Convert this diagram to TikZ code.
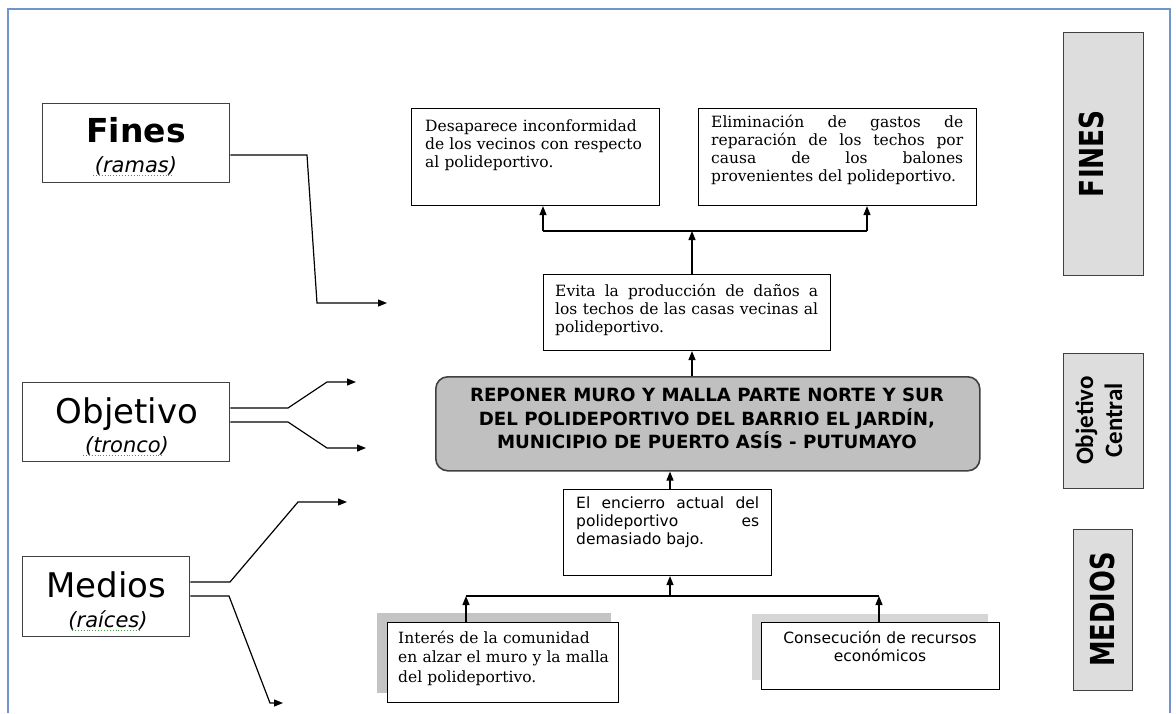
\documentclass[tikz,border=0pt]{standalone}
\usepackage{fontspec}
\setmainfont{DejaVu Serif}
\newfontfamily\vsans{DejaVu Sans}
\newfontfamily\carl{Carlito}
\usepackage{graphicx}
\usetikzlibrary{arrows.meta}
\definecolor{frameblue}{HTML}{7094CC}
\definecolor{sidegray}{HTML}{DDDDDD}
\definecolor{centgray}{HTML}{C0C0C0}
\definecolor{shadowA}{HTML}{C4C4C4}
\definecolor{shadowB}{HTML}{D6D6D6}
\definecolor{edgegray}{HTML}{404040}
\definecolor{spellgreen}{HTML}{3CA03C}
\begin{document}
\begin{tikzpicture}[x=1pt,y=-1pt,
  box/.style={draw=black, line width=1.1pt, fill=white, inner sep=0pt, anchor=north west},
  lbox/.style={draw=edgegray, line width=1.3pt, fill=white, inner sep=0pt, anchor=north west},
  sbox/.style={draw=edgegray, line width=1.3pt, fill=sidegray, inner sep=0pt, anchor=north west},
  txt/.style={anchor=north west, inner sep=0pt, font=\fontsize{15.5}{18}\selectfont},
  stxt/.style={anchor=north west, inner sep=0pt, font=\vsans\fontsize{15.5}{18}\selectfont},
  arr/.style={line width=1.2pt, -{Triangle[length=9pt,width=7pt]}},
  ln/.style={line width=1.2pt},
  spell/.style={spellgreen, line width=0.9pt, dotted},
]
\useasboundingbox (0,0) rectangle (1176,713);
\fill[white] (0,0) rectangle (1176,713);
% outer frame
\draw[frameblue, line width=2pt] (8,713) -- (8,9) -- (1170,9) -- (1170,713);

% ---------- left labels ----------
\node[lbox, minimum width=187pt, minimum height=79pt] (fin) at (42,103) {};
\node[anchor=base, inner sep=0pt, font=\vsans\bfseries\fontsize{33}{33}\selectfont] (finT) at (136,142) {Fines};
\node[anchor=base, inner sep=0pt, font=\vsans\itshape\fontsize{21}{21}\selectfont] (finS) at (136,172) {(ramas)};
\draw[spell] (93,175.5) -- (172,175.5);

\node[lbox, minimum width=207pt, minimum height=79pt] (obj) at (22,382) {};
\node[anchor=base, inner sep=0pt, font=\vsans\fontsize{34}{34}\selectfont] (objT) at (127,423) {Objetivo};
\node[anchor=base, inner sep=0pt, font=\vsans\itshape\fontsize{21}{21}\selectfont] (objS) at (127,452) {(tronco)};
\draw[spell] (83,455) -- (163,455);

\node[lbox, minimum width=167pt, minimum height=80pt] (med) at (22,556) {};
\node[anchor=base, inner sep=0pt, font=\vsans\fontsize{34}{34}\selectfont] (medT) at (106.5,597) {Medios};
\node[anchor=base, inner sep=0pt, font=\vsans\itshape\fontsize{21}{21}\selectfont] (medS) at (108,627) {(raíces)};
\draw[spell] (72,630) -- (140,630);

% left connectors
\coordinate (f1) at (307,155); \coordinate (f2) at (317,303); \coordinate (fE) at (387,303);
\draw[arr] (fin.east |- f1) -- (f1) -- (f2) -- (fE);
\coordinate (o1) at (288,408); \coordinate (o2) at (327,382); \coordinate (oE) at (356,382);
\coordinate (o3) at (288,422); \coordinate (o4) at (327,448); \coordinate (oF) at (366,448);
\draw[arr] (obj.east |- o1) -- (o1) -- (o2) -- (oE);
\draw[arr] (obj.east |- o3) -- (o3) -- (o4) -- (oF);
\coordinate (m1) at (230,582); \coordinate (m2) at (298,502); \coordinate (mE) at (347,502);
\coordinate (m3) at (229,596); \coordinate (m4) at (270,703); \coordinate (mF) at (283,703);
\draw[arr] (med.east |- m1) -- (m1) -- (m2) -- (mE);
\draw[arr] (med.east |- m3) -- (m3) -- (m4) -- (mF);

% ---------- right side labels ----------
\node[sbox, minimum width=80pt, minimum height=243pt] (sF) at (1063,32) {};
\node[rotate=90, inner sep=0pt, font=\vsans\bfseries\fontsize{33}{33}\selectfont] (sFt) at (1091,153.5) {\scalebox{0.8}[1]{FINES}};
\node[sbox, minimum width=80pt, minimum height=135pt] (sO) at (1063,353) {};
\node[rotate=90, inner sep=0pt, align=center, font=\carl\bfseries\fontsize{25}{29}\selectfont] (sOt) at (1099,420.5) {Objetivo\\Central};
\node[sbox, minimum width=59pt, minimum height=161pt] (sM) at (1073,529) {};
\node[rotate=90, inner sep=0pt, font=\vsans\bfseries\fontsize{33}{33}\selectfont] (sMt) at (1102,609.5) {\scalebox{0.78}[1]{MEDIOS}};

% ---------- top boxes ----------
\node[box, minimum width=248pt, minimum height=97pt] (b1) at (411,108) {};
\node[txt, text width=228pt, align=left] at (425,118.4) {\strut Desaparece inconformidad\\de los vecinos con respecto\\al polideportivo.};
\node[box, minimum width=278pt, minimum height=97pt] (b2) at (698,108) {};
\node[txt, text width=252pt, align=justify] at (711,114.4) {\strut Eliminación de gastos de\linebreak reparación de los techos por\linebreak causa de los balones\linebreak provenientes del polideportivo.};

% Evita
\node[box, minimum width=287pt, minimum height=76pt] (ev) at (543,274) {};
\node[txt, text width=263pt, align=justify] at (555,283.4) {\strut Evita la producción de daños a\linebreak los techos de las casas vecinas al\linebreak polideportivo.};

% central
\node[draw=edgegray, line width=1.6pt, fill=centgray, rounded corners=12pt, inner sep=0pt, anchor=north west, minimum width=544pt, minimum height=94pt] (cen) at (435,376) {};
\node[anchor=north, inner sep=0pt, align=center, font=\vsans\bfseries\fontsize{18.2}{22.5}\selectfont] (cenT) at (707,385.25) {\strut REPONER MURO Y MALLA PARTE NORTE Y SUR\\DEL POLIDEPORTIVO DEL BARRIO EL JARDÍN,\\MUNICIPIO DE PUERTO ASÍS - PUTUMAYO};

% encierro
\node[box, minimum width=208pt, minimum height=86pt] (enc) at (563,489) {};
\node[stxt, text width=183pt, align=justify] at (576,495.4) {\strut El encierro actual del\linebreak polideportivo es\linebreak demasiado bajo.};

% bottom boxes
\fill[shadowA] (377,613) rectangle (611,693);
\node[box, minimum width=231pt, minimum height=80pt] (b3) at (387,622) {};
\node[txt, text width=218pt, align=left, font=\fontsize{15.5}{19.5}\selectfont] at (398,629.35) {\strut Interés de la comunidad\\en alzar el muro y la malla\\del polideportivo.};
\fill[shadowB] (752,614) rectangle (988,680);
\node[box, minimum width=238pt, minimum height=67pt] (b4) at (761,622) {};
\node[stxt, anchor=north, align=center] at (880,630.4) {\strut Consecución de recursos\\económicos};

% ---------- connectors ----------
\coordinate (tL) at (543,231); \coordinate (tM) at (692,231); \coordinate (tR) at (867,231);
\draw[ln] (tL) -- (tR);
\draw[arr] (tL) -- (b1.south -| tL);
\draw[arr] (tR) -- (b2.south -| tR);
\draw[arr] (ev.north -| tM) -- (tM);
\draw[arr] (cen.north -| tM) -- (ev.south -| tM);
\coordinate (bL) at (466,596); \coordinate (bM) at (670,596); \coordinate (bR) at (879,596);
\draw[ln] (bL) -- (bR);
\draw[arr] (bM) -- (enc.south -| bM);
\draw[arr] (b3.north -| bL) -- (bL);
\draw[arr] (b4.north -| bR) -- (bR);
\draw[arr] (enc.north -| bM) -- (cen.south -| bM);
\end{tikzpicture}
\end{document}
